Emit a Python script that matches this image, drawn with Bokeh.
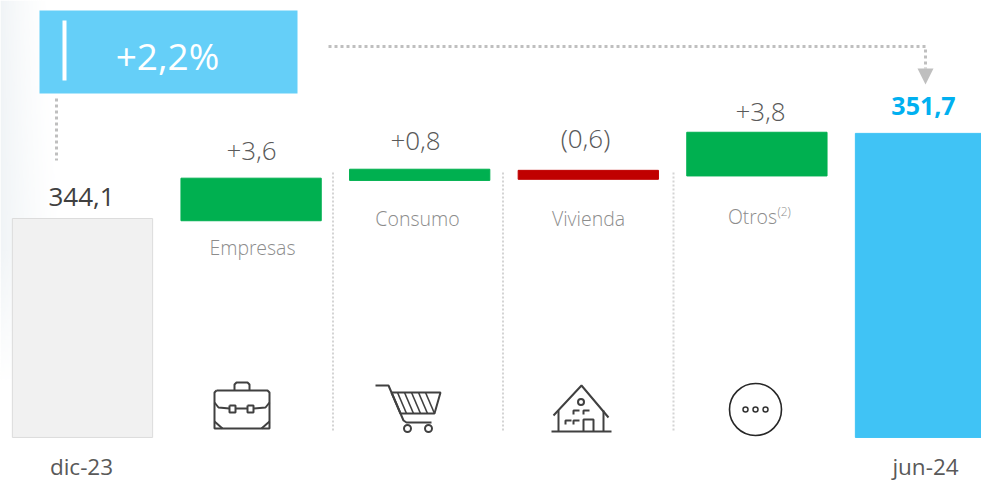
import numpy as np
from bokeh.plotting import figure
from bokeh.embed import file_html
from bokeh.resources import INLINE
from bokeh.core.properties import value

# --- data ---
categories = ["dic-23", "Empresas", "Consumo", "Vivienda", "Otros", "jun-24"]
value_labels = ["344,1", "+3,6", "+0,8", "(0,6)", "+3,8", "351,7"]
bar_tops = [344.1, 347.7, 348.5, 348.4, 351.8, 351.7]
bar_bottoms = [324.55, 343.9, 347.5, 347.6, 347.9, 324.55]
bar_colors = ["#f1f1f1", "#00b050", "#00b050", "#c00000", "#00b050", "#40c3f5"]
bar_lines = ["#dcdcdc", "#00b050", "#00b050", "#c00000", "#00b050", "#40c3f5"]
axis_labels = ["dic-23", "jun-24"]
change_label = "+2,2%"
step_labels = ["Empresas", "Consumo", "Vivienda", "Otros"]

FONT = "Open Sans"
LIGHT = "Open Sans Light, Open Sans"
W, H = 981, 484
PX_PER_UNIT = 11.2
PX_PER_CAT = 168.6

def xd(px):
    return (px - 82) / PX_PER_CAT

def yd(py):
    return 344.1 + (218 - py) / PX_PER_UNIT

p = figure(width=W, height=H, output_backend="svg", toolbar_location=None,
           x_range=(xd(0), xd(W)), y_range=(yd(H), yd(0)),
           min_border=0, x_axis_type=None, y_axis_type=None)
p.outline_line_color = None
p.grid.visible = False

# faint wash down the left edge of the slide
gw, gh = 60, 120
gx, gy = np.meshgrid(np.linspace(0, 1, gw), np.linspace(0, 1, gh))
strength = np.clip(1 - gx * (0.9 + 0.5 * np.abs(gy - 0.5)), 0, 1) ** 1.5
strength *= np.clip((gy - 0.2) * 3.5, 0.02, 1)
wash = np.zeros((gh, gw), dtype=np.uint32)
v = wash.view(dtype=np.uint8).reshape((gh, gw, 4))
v[..., 0], v[..., 1], v[..., 2] = 226, 233, 238
v[..., 3] = (strength * 130).astype(np.uint8)
p.image_rgba(image=[wash], x=xd(0), y=yd(484), dw=xd(60) - xd(0), dh=yd(0) - yd(484))

xs = list(range(len(categories)))
p.vbar(x=xs, width=0.832, top=bar_tops, bottom=bar_bottoms,
       fill_color=bar_colors, line_color=bar_lines, line_width=1)

# category labels under the end bars
p.text([xd(81), xd(925)], [yd(466), yd(466)], text=axis_labels, text_font=value(FONT),
       text_font_size="22.5px", text_color="#595959", text_align="center", text_baseline="middle")

# value labels
label_y = [196, 150, 140, 137, 111, 105]
for i, lab in enumerate(value_labels):
    last = i == 5
    p.text([xd([81, 251, 415, 585, 760, 923][i])], [yd(label_y[i])], text=[lab],
           text_font=value(FONT if last or i == 0 else LIGHT),
           text_font_size="25px" if last else "26px",
           text_font_style="bold" if last else "normal",
           text_color="#00b0f0" if last else ("#404040" if i == 0 else "#595959"),
           text_align="center", text_baseline="middle")

# step names
name_pos = [(252, 247), (417, 218), (588, 218), (752, 216)]
for lab, (px, py) in zip(step_labels, name_pos):
    p.text([xd(px)], [yd(py)], text=[lab], text_font=value(LIGHT), text_font_size="19.5px",
           text_color="#8c8c8c", text_align="center", text_baseline="middle")
p.text([xd(777)], [yd(211)], text=["(2)"], text_font=value(LIGHT), text_font_size="12px",
       text_color="#8c8c8c", text_align="left", text_baseline="middle")

# change call-out
p.quad(left=[xd(39)], right=[xd(297)], top=[yd(10)], bottom=[yd(93)],
       fill_color="#65cff8", line_color=None)
p.line([xd(64), xd(64)], [yd(20), yd(80)], line_color="white", line_width=4)
p.text([xd(167)], [yd(55)], text=[change_label], text_font=value(FONT), text_font_size="37px",
       text_color="white", text_align="center", text_baseline="middle")

# dotted connectors
dot = dict(line_color="#bfbfbf", line_width=3, line_dash="3 3")
p.line([xd(56), xd(56)], [yd(98), yd(160)], **dot)
p.line([xd(328), xd(925), xd(925)], [yd(46), yd(46), yd(68)], **dot)
p.patch([xd(917), xd(933), xd(925)], [yd(68), yd(68), yd(84)], fill_color="#bfbfbf", line_color=None)
for px in (332.5, 502.5, 673):
    p.line([xd(px), xd(px)], [yd(172), yd(432)], line_color="#d4d4d4", line_width=2, line_dash="2 2")

# icons
def stroke(points, color="#404040", width=2):
    p.line([xd(a) for a, _ in points], [yd(b) for _, b in points], line_color=color, line_width=width)

def ring(px, py, r, color="#404040", width=2):
    p.scatter([xd(px)], [yd(py)], marker="circle", size=2 * r, fill_color=None,
              line_color=color, line_width=width)

# briefcase
stroke([(216, 390), (267, 390), (269, 392), (269, 428), (214, 428), (214, 392), (216, 390)])
stroke([(234, 390), (234, 384), (236, 382), (247, 382), (249, 384), (249, 390)])
stroke([(214, 402), (218, 407), (229, 408)])
stroke([(235, 408), (247, 408)])
stroke([(253, 408), (265, 407), (269, 402)])
stroke([(229, 405), (235, 405), (235, 412), (229, 412), (229, 405)])
stroke([(247, 405), (253, 405), (253, 412), (247, 412), (247, 405)])
stroke([(214, 421), (222, 428)])
stroke([(269, 421), (261, 428)])

# cart
stroke([(375, 385), (388, 385), (403, 420), (406, 422), (431, 422)])
stroke([(391, 392), (440, 392), (434, 413), (400, 413), (391, 392)])
for a, b in [(397, 406), (404, 413), (411, 420), (418, 427), (425, 434)]:
    stroke([(a, 392), (b, 413)], width=1.6)
ring(407, 428, 3.5)
ring(428, 428, 3.5)

# house
stroke([(553, 415), (581, 385), (608, 417)])
stroke([(558, 410), (558, 431)])
stroke([(603, 410), (603, 431)])
stroke([(551, 431), (611, 431)])
stroke([(583, 431), (583, 419), (593, 419), (593, 431)])
ring(580.5, 401.5, 3)
for a, b in [(573, 414), (583, 414), (565, 424), (573, 424)]:
    stroke([(a, b), (a, b - 4), (a + 6, b - 4)], width=2)

# circle with dots
ring(755, 409, 26, color="#262626", width=1.6)
for a in (745, 755, 765):
    ring(a, 409, 2.5, color="#333333", width=1.5)

open("out.html", "w").write(file_html(p, INLINE))
